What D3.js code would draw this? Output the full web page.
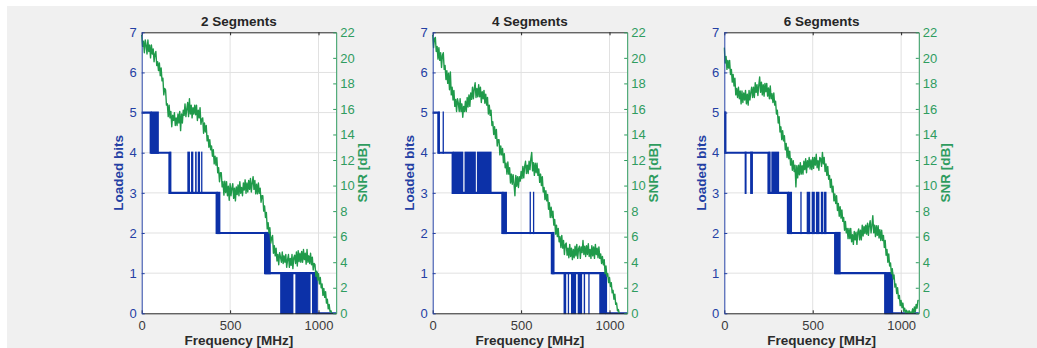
<!DOCTYPE html>
<html><head><meta charset="utf-8">
<script src="https://cdn.jsdelivr.net/npm/d3@7"></script>
<style>body{margin:0;background:#fff}svg{display:block}text{font-family:"Liberation Sans",Arial,sans-serif}</style>
</head><body><svg id="c" width="1037" height="348"></svg>
<script>
// ---------------- data ----------------
const titles = ["2 Segments", "4 Segments", "6 Segments"];
const snrStepMHz = 5; // spacing of SNR samples in MHz
const snr2 = [
 21.8,20.9,21.3,20.4,21.4,21.0,20.3,21.4,20.5,21.0,20.0,21.0,20.3,20.7,19.7,20.3,20.5,19.4,19.7,19.0,
 19.6,18.6,19.2,18.2,18.4,17.1,17.6,17.5,16.3,16.4,15.4,16.3,15.3,15.8,14.6,15.5,15.1,15.7,14.7,15.3,
 14.7,15.6,14.9,15.8,14.3,15.6,14.9,15.9,15.5,16.4,15.4,16.0,16.5,15.4,16.8,15.6,16.3,15.3,16.1,15.6,
 16.3,15.55,16.3,15.1,15.9,15.3,16.1,14.8,15.2,15.3,14.1,14.9,14.2,14.7,13.5,13.9,13.0,13.6,12.8,13.1,
 12.3,12.8,11.7,12.3,11.6,12.2,11.0,11.4,10.3,11.0,11.0,9.9,10.3,9.25,10.35,9.45,10.3,9.2,9.95,8.85,
 10.15,9.2,9.8,10.15,9.0,9.8,8.8,9.9,9.3,10.05,9.2,10.3,9.4,9.85,9.2,10.2,9.65,10.45,9.4,10.2,
 9.5,10.4,9.7,10.55,9.5,10.2,10.7,9.7,10.4,9.35,10.1,9.35,10.2,9.4,9.8,8.7,9.2,9.2,8.0,8.4,
 7.5,7.9,6.6,7.1,6.3,6.7,5.5,5.9,6.1,4.7,5.3,4.5,5.1,4.1,4.6,3.8,4.75,4.4,4.0,4.8,
 3.9,4.5,4.0,4.6,3.6,4.2,4.6,3.6,4.3,3.75,4.6,3.5,4.35,4.55,3.9,4.8,3.7,4.9,4.05,4.7,
 4.0,4.85,4.0,5.0,4.2,4.7,3.85,5.0,4.0,4.5,3.9,4.7,3.8,4.4,3.4,3.9,3.8,2.9,3.3,2.6,
 3.1,2.3,2.8,2.0,2.3,1.4,1.95,1.25,1.7,0.8,1.1,0.35,0.7,0.15,0.2,0];
const snr4 = [
 21.8,20.8,21.5,21.6,20.5,20.9,19.9,20.8,19.8,20.4,19.25,20.2,20.4,19.1,19.4,18.3,19.0,18.0,18.8,17.5,
 18.9,17.1,17.7,16.7,17.45,16.2,16.75,15.8,16.8,16.45,15.8,16.8,15.8,16.4,15.35,16.2,15.8,16.6,15.8,16.9,
 16.15,17.1,16.2,17.25,16.75,17.7,16.8,17.6,18.05,16.9,17.6,16.95,17.9,16.95,17.7,16.5,17.35,16.8,17.45,16.45,
 17.15,16.3,16.9,15.6,16.3,15.5,15.9,14.7,15.0,14.0,14.6,13.7,14.4,13.1,13.6,13.6,12.4,13.1,12.4,12.9,
 11.8,12.5,11.4,11.75,10.9,11.85,10.9,11.4,10.2,10.9,10.1,10.85,10.1,9.2,10.8,9.95,10.7,9.85,10.7,10.35,
 11.1,10.55,11.5,10.6,11.5,11.9,10.95,11.6,10.95,11.9,11.25,12.1,12.6,11.15,11.8,10.8,11.75,11.0,11.75,10.8,
 11.3,10.25,10.9,10.0,10.7,9.5,9.85,8.9,9.6,8.8,9.3,8.15,8.65,7.5,8.3,7.5,8.0,6.9,7.35,6.2,
 6.9,6.0,6.65,5.6,6.0,5.15,6.1,5.1,5.7,4.6,5.4,5.5,4.55,5.1,4.35,5.4,4.45,5.1,4.2,5.0,
 4.35,5.25,4.5,5.4,4.3,5.05,5.25,4.3,5.2,4.75,5.7,4.6,5.25,4.45,5.3,4.6,5.45,4.45,5.0,4.3,
 5.3,4.5,5.2,4.3,5.4,4.6,5.1,4.35,5.2,4.3,4.65,3.9,4.45,3.8,4.2,3.1,3.7,2.9,3.1,2.4,
 2.8,2.1,2.4,1.6,1.8,1.1,1.5,0.7,0.8,0.2,0.3,0];
const snr6 = [
 20.8,19.6,20.1,19.1,19.8,19.2,19.8,18.7,19.1,18.1,18.7,17.8,18.4,17.1,17.6,16.9,17.7,16.8,17.4,16.4,
 17.4,16.5,17.25,16.7,17.45,16.4,17.15,16.3,17.45,16.7,17.3,17.7,16.9,17.7,16.9,18.05,17.3,17.9,17.05,17.85,
 18.5,17.3,18.1,17.1,17.9,17.0,18.0,17.35,18.0,17.0,17.65,16.8,17.8,16.8,17.2,16.5,17.25,16.3,16.6,15.6,
 15.9,14.9,15.4,14.2,14.6,13.6,14.3,13.5,13.9,12.8,13.3,12.2,13.0,12.1,12.7,11.6,12.1,11.2,11.95,11.1,
 11.6,9.9,11.55,10.6,11.6,10.85,11.8,10.9,11.55,10.9,11.9,11.25,12.1,11.0,11.95,11.45,12.2,11.3,12.0,11.25,
 12.2,11.35,12.2,11.6,12.45,11.4,11.95,11.2,12.2,12.1,11.5,12.6,11.7,12.2,11.1,11.7,10.8,11.5,10.5,10.8,
 9.85,10.5,9.5,9.95,8.8,9.35,8.6,9.2,8.05,8.6,7.6,8.35,7.45,8.1,7.2,7.5,6.5,7.2,6.3,6.65,
 5.85,6.65,5.85,6.65,5.6,6.15,5.4,6.4,5.75,6.35,5.4,6.35,6.6,5.75,6.5,5.75,6.9,6.05,6.8,6.25,
 6.9,6.2,7.05,6.1,6.9,7.25,6.3,6.9,7.65,6.3,6.9,6.0,6.85,6.1,6.85,5.9,6.55,5.7,6.5,5.7,
 6.1,5.15,5.7,4.55,5.0,4.0,4.65,3.7,3.95,3.1,3.5,2.7,3.0,2.05,2.3,1.55,2.0,1.15,1.4,0.6,
 1.0,0.45,0.8,0.15,0.4,0,0.25,0.1,0,0.2,0,0.1,0,0.35,0,0.5,0.1,0.7,0.4,1.0,1.0];
// loaded bits: step changes [MHz, bits]
const bitsSteps2 = [[0,5],[51,4],[157,3],[424,2],[698,1],[990,0],[1100,0]];
const bitsSteps4 = [[0,5],[32,4],[113,3],[394,2],[674,1],[980,0],[1100,0]];
const bitsSteps6 = [[0,5],[6,4],[250,3],[360,2],[627,1],[910,0],[1100,0]];
// rapidly toggling regions [fromMHz, toMHz, lowBits, highBits]
const bitsToggle2 = [[51,97,4,5],[157,168,3,4],[258,273,3,4],[279,292,3,4],[302,311,3,4],[317,330,3,4],[336,343,3,4],
 [424,445,2,3],[698,730,1,2],[783,858,0,1],[869,955,0,1],[963,990,0,1]];
const bitsToggle4 = [[32,41,4,5],[56,61,4,5],[113,173,3,4],[180,244,3,4],[250,333,3,4],[394,420,2,3],[548,555,2,3],[567,574,2,3],
 [674,689,1,2],[740,755,0,1],[764,771,0,1],[782,811,0,1],[820,845,0,1],[854,862,0,1],[880,886,0,1],[942,980,0,1]];
const bitsToggle6 = [[0,6,4,5],[115,126,3,4],[146,162,3,4],[250,262,3,4],[266,310,3,4],[360,383,2,3],[430,436,2,3],[466,486,2,3],
 [494,512,2,3],[518,538,2,3],[546,560,2,3],[564,578,2,3],[627,658,1,2],[910,955,0,1]];
const xTicks = [0, 500, 1000];
const bitsTicks = [0,1,2,3,4,5,6,7];
const snrTicks = [0,2,4,6,8,10,12,14,16,18,20,22];

const panels = [
  {title: titles[0], snr: snr2, steps: bitsSteps2, toggles: bitsToggle2},
  {title: titles[1], snr: snr4, steps: bitsSteps4, toggles: bitsToggle4},
  {title: titles[2], snr: snr6, steps: bitsSteps6, toggles: bitsToggle6}
];

// ---------------- drawing ----------------
const svg = d3.select("#c");
svg.append("rect").attr("x",7).attr("y",6).attr("width",1030).attr("height",342).attr("fill","#f0f0f0");

const lefts = [141.7, 432.7, 724.3], pw = 194.5, plotTop = 32.3, ph = 281;
const blue = "#0c31a8", blueAx = "#2440a4", green = "#1f9a4a", greenAx = "#2f9c5f", dark = "#262626";
const fmt = d3.format("d");

panels.forEach((p, i) => {
  const g = svg.append("g").attr("transform", `translate(${lefts[i]},${plotTop})`);
  const x = d3.scaleLinear().domain([0, 1100]).range([0, pw]);
  const yb = d3.scaleLinear().domain([0, 7]).range([ph, 0]);
  const ys = d3.scaleLinear().domain([0, 22]).range([ph, 0]);

  g.append("rect").attr("width", pw).attr("height", ph).attr("fill", "#fff");
  const cid = "clip" + i;
  g.append("clipPath").attr("id", cid).append("rect").attr("x",-1).attr("y",-1).attr("width", pw+2).attr("height", ph+2);

  // grid
  g.append("g").selectAll("line").data(bitsTicks.slice(1, -1)).join("line")
    .attr("x1", 0).attr("x2", pw).attr("y1", d => yb(d)).attr("y2", d => yb(d))
    .attr("stroke", "#e1e1e1").attr("stroke-width", 1);
  g.append("g").selectAll("line").data(xTicks.slice(1)).join("line")
    .attr("y1", 0).attr("y2", ph).attr("x1", d => x(d)).attr("x2", d => x(d))
    .attr("stroke", "#e1e1e1").attr("stroke-width", 1);

  const plot = g.append("g").attr("clip-path", `url(#${cid})`);
  // bits
  plot.append("path").datum(p.steps)
    .attr("d", d3.line().x(d => x(d[0])).y(d => yb(d[1])).curve(d3.curveStepAfter))
    .attr("fill", "none").attr("stroke", blue).attr("stroke-width", 2.2);
  plot.append("g").selectAll("rect").data(p.toggles).join("rect")
    .attr("x", d => x(d[0])).attr("width", d => Math.max(1.3, x(d[1]) - x(d[0])))
    .attr("y", d => yb(d[3]) - 1.1).attr("height", d => yb(d[2]) - yb(d[3]) + 2.2)
    .attr("fill", blue);
  // snr
  plot.append("path").datum(p.snr)
    .attr("d", d3.line().x((d, k) => x(k * snrStepMHz)).y(d => ys(d)))
    .attr("fill", "none").attr("stroke", green).attr("stroke-width", 1.4).attr("stroke-linejoin", "round");

  // axes
  const ax = (sel, color, fs) => {
    sel.selectAll(".domain").attr("stroke", color).attr("stroke-width", 1);
    sel.selectAll(".tick line").attr("stroke", color);
    sel.selectAll(".tick text").attr("fill", color).attr("font-size", fs).attr("font-family", '"Liberation Sans",Arial,sans-serif');
  };
  const axT = g.append("g").call(d3.axisTop(x).tickValues(xTicks).tickSize(-3).tickSizeOuter(0).tickFormat(""));
  ax(axT, dark, 12);
  const axB = g.append("g").attr("transform", `translate(0,${ph})`)
    .call(d3.axisBottom(x).tickValues(xTicks).tickFormat(fmt).tickSize(-3).tickSizeOuter(0).tickPadding(7));
  ax(axB, dark, 13);
  axB.selectAll(".tick text").attr("fill", "#3a3a3a");
  const axL = g.append("g").call(d3.axisLeft(yb).tickValues(bitsTicks).tickFormat(fmt).tickSize(-3).tickSizeOuter(0).tickPadding(5));
  ax(axL, blueAx, 13);
  const axR = g.append("g").attr("transform", `translate(${pw},0)`)
    .call(d3.axisRight(ys).tickValues(snrTicks).tickFormat(fmt).tickSize(-3).tickSizeOuter(0).tickPadding(4));
  ax(axR, greenAx, 13);

  // labels
  g.append("text").attr("x", pw / 2).attr("y", -6).attr("text-anchor", "middle")
    .attr("font-size", 13.5).attr("font-weight", "bold").attr("fill", dark).text(p.title);
  g.append("text").attr("x", pw / 2).attr("y", ph + 32).attr("text-anchor", "middle")
    .attr("font-size", 13.5).attr("font-weight", "bold").attr("fill", "#2b2b2b").text("Frequency [MHz]");
  g.append("text").attr("transform", `translate(-23,${ph / 2}) rotate(-90)`).attr("text-anchor", "middle").attr("dy", "0.35em")
    .attr("font-size", 13.5).attr("font-weight", "bold").attr("fill", blueAx).text("Loaded bits");
  g.append("text").attr("transform", `translate(${pw + 26},${ph / 2}) rotate(-90)`).attr("text-anchor", "middle").attr("dy", "0.35em")
    .attr("font-size", 13.5).attr("font-weight", "bold").attr("fill", greenAx).text("SNR [dB]");
});
</script></body></html>
